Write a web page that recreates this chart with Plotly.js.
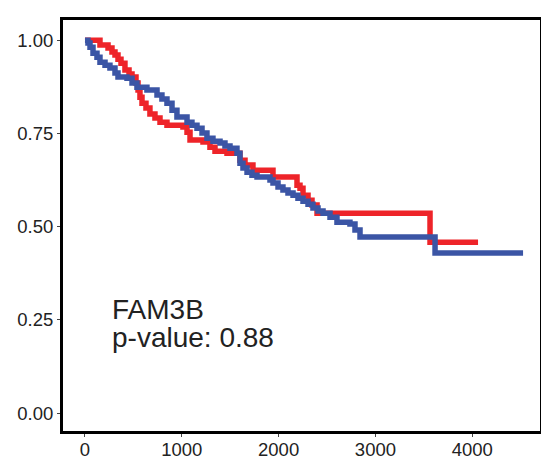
<!DOCTYPE html>
<html><head><meta charset="utf-8">
<script src="https://cdn.plot.ly/plotly-3.0.1.min.js"></script>
<style>body{margin:0;padding:0;background:#fff}#chart{width:541px;height:459px}</style>
</head><body><div id="chart"></div>
<script>
// Red group (time in days, survival probability)
const redTime = [0,155,238,279,310,341,372,413,455,486,527,548,568,589,630,671,723,775,847,1012,1054,1085,1219,1291,1343,1467,1601,1653,1735,1942,2190,2221,2252,2304,2345,2397,3564,4060];
const redSurv = [1.000,0.987,0.979,0.968,0.960,0.949,0.938,0.920,0.909,0.901,0.885,0.866,0.847,0.831,0.818,0.802,0.791,0.780,0.772,0.767,0.753,0.732,0.727,0.713,0.702,0.697,0.678,0.665,0.651,0.633,0.611,0.603,0.584,0.571,0.558,0.536,0.458,0.458];
// Blue group
const blueTime = [0,31,52,83,124,155,207,258,310,341,434,486,537,640,744,795,847,899,950,1054,1105,1157,1209,1260,1322,1395,1446,1498,1570,1601,1632,1674,1725,1777,1911,1942,1994,2045,2097,2149,2200,2252,2304,2355,2407,2459,2531,2603,2737,2789,2841,3616,4525];
const blueSurv = [1.000,0.992,0.981,0.965,0.954,0.941,0.933,0.925,0.912,0.901,0.898,0.885,0.874,0.866,0.853,0.842,0.831,0.812,0.794,0.780,0.772,0.764,0.751,0.737,0.729,0.724,0.716,0.710,0.697,0.670,0.657,0.646,0.638,0.633,0.625,0.617,0.606,0.598,0.590,0.584,0.576,0.568,0.560,0.550,0.542,0.536,0.525,0.512,0.507,0.491,0.472,0.429,0.429];
const xTicks = [0,1000,2000,3000,4000];
const yTicks = [0,0.25,0.5,0.75,1];
const yTickText = ["0.00","0.25","0.50","0.75","1.00"];
const geneName = "FAM3B";
const pValue = "0.88";

const tickFont = {family:'Liberation Sans, Arial, sans-serif', size:18.5, color:'#222'};
const traces = [
  {x: redTime, y: redSurv, mode:'lines', line:{shape:'hv', color:'#EE2429', width:5.5}, hoverinfo:'skip'},
  {x: blueTime, y: blueSurv, mode:'lines', line:{shape:'hv', color:'#3B55A5', width:5.5}, hoverinfo:'skip'}
];
const layout = {
  width:541, height:459,
  margin:{l:63, r:1, t:20, b:28},
  paper_bgcolor:'#fff', plot_bgcolor:'#fff',
  showlegend:false,
  font:{family:'Liberation Sans, Arial, sans-serif', color:'#222', size:16},
  xaxis:{range:[-227,4700], tickvals:xTicks, ticktext:xTicks.map(String), showgrid:false, zeroline:false,
         showline:true, mirror:true, linecolor:'#000', linewidth:3, ticks:'outside', ticklen:3, tickcolor:'#444', tickwidth:1,
         ticklabelstandoff:-3, tickfont:tickFont},
  yaxis:{range:[-0.048,1.054], tickvals:yTicks, ticktext:yTickText, showgrid:false, zeroline:false,
         showline:true, mirror:true, linecolor:'#000', linewidth:3, ticks:'outside', ticklen:3, tickcolor:'#444', tickwidth:1,
         tickfont:tickFont},
  annotations:[
    {x:0.0985, y:0.279, xref:'paper', yref:'y', text:geneName, showarrow:false, xanchor:'left', yanchor:'middle', font:{size:28, color:'#222'}},
    {x:0.0985, y:0.203, xref:'paper', yref:'y', text:'p-value: '+pValue, showarrow:false, xanchor:'left', yanchor:'middle', font:{size:28, color:'#222'}}
  ]
};
Plotly.newPlot('chart', traces, layout, {staticPlot:true, displayModeBar:false});
</script></body></html>
